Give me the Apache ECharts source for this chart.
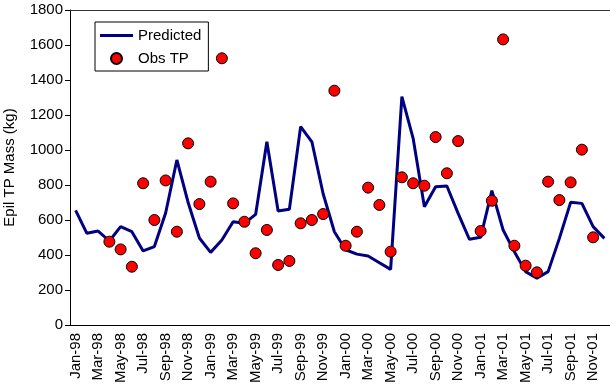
<!DOCTYPE html>
<html>
<head>
<meta charset="utf-8">
<script src="https://cdn.jsdelivr.net/npm/echarts@6/dist/echarts.min.js"></script>
<style>
  html, body { margin: 0; padding: 0; background: #fff; }
  #main { width: 610px; height: 392px; }
</style>
</head>
<body>
<div id="main"></div>
<script>
// monthly categories Jan-98 .. Dec-01
var months = ['Jan', 'Feb', 'Mar', 'Apr', 'May', 'Jun', 'Jul', 'Aug', 'Sep', 'Oct', 'Nov', 'Dec'];
var years = ['98', '99', '00', '01'];
var categories = [];
years.forEach(function (y) {
  months.forEach(function (m) { categories.push(m + '-' + y); });
});

// predicted epilimnion TP mass (kg)
var predicted = [
  655, 524, 537, 480, 562, 533, 423, 448, 640, 943, 700, 497,
  415, 486, 590, 581, 632, 1047, 651, 661, 1133, 1047, 750, 533,
  430, 405, 394, 356, 318, 1305, 1067, 676, 790, 794, 638, 490,
  501, 768, 543, 419, 305, 267, 305, 495, 701, 695, 562, 495
];

// observed TP (kg), null = no sample
var observed = [
  null, null, null, 476, 432, 333, 810, 600, 826, 533, 1038, 691,
  819, 1524, 695, 590, 410, 543, 343, 366, 581, 600, 634, 1339,
  453, 533, 785, 686, 419, 844, 810, 796, 1074, 867, 1051, null,
  537, 710, 1632, 453, 339, 301, 819, 714, 815, 1002, 501, null
];

var yTicks = { min: 0, max: 1800, step: 200 };

var myChart = echarts.init(document.getElementById('main'));
var font = 'Liberation Sans, Arial, sans-serif';

var option = {
  animation: false,
  textStyle: { fontFamily: font },
  grid: { left: 70, right: 0, top: 10, bottom: 67, containLabel: false, outerBoundsMode: 'none' },
  legend: {
    orient: 'vertical',
    left: 95,
    top: 22,
    padding: [6, 7, 5, 5],
    itemWidth: 33,
    itemHeight: 11,
    itemGap: 8,
    borderColor: '#000',
    borderWidth: 1,
    backgroundColor: '#fff',
    textStyle: { fontFamily: font, fontSize: 15, color: '#000' },
    data: [
      { name: 'Predicted', icon: 'path://M0,0 L33,0 L33,3 L0,3 Z' },
      { name: 'Obs TP' }
    ]
  },
  xAxis: [
    {
      type: 'category',
      data: categories,
      boundaryGap: true,
      axisLine: { lineStyle: { color: '#000', width: 1 } },
      axisTick: { interval: 1, length: 5, lineStyle: { color: '#000' } },
      axisLabel: {
        interval: 1,
        rotate: 90,
        margin: 8,
        fontFamily: font,
        fontSize: 15,
        color: '#000'
      },
      splitLine: { show: false }
    },
    {
      type: 'category',
      data: categories,
      position: 'top',
      axisLine: { lineStyle: { color: '#333', width: 1 } },
      axisTick: { show: false },
      axisLabel: { show: false }
    }
  ],
  yAxis: {
    type: 'value',
    min: yTicks.min,
    max: yTicks.max,
    interval: yTicks.step,
    name: 'Epil TP Mass (kg)',
    nameLocation: 'middle',
    nameGap: 53,
    nameTextStyle: { fontFamily: font, fontSize: 15, color: '#000' },
    axisLine: { show: true, lineStyle: { color: '#000', width: 1 } },
    axisTick: { show: true, length: 5, lineStyle: { color: '#000' } },
    axisLabel: {
      fontFamily: font,
      fontSize: 15,
      color: '#000',
      margin: 7,
      formatter: function (v) { return String(v); }
    },
    splitLine: { show: false }
  },
  series: [
    {
      name: 'Predicted',
      type: 'line',
      data: predicted,
      symbol: 'none',
      lineStyle: { color: '#000080', width: 3 },
      itemStyle: { color: '#000080' },
      z: 2
    },
    {
      name: 'Obs TP',
      type: 'scatter',
      data: observed,
      symbol: 'circle',
      symbolSize: 11,
      itemStyle: { color: '#ff0000', borderColor: '#000', borderWidth: 1, opacity: 1 },
      z: 3
    }
  ]
};

option && myChart.setOption(option);
</script>
</body>
</html>
